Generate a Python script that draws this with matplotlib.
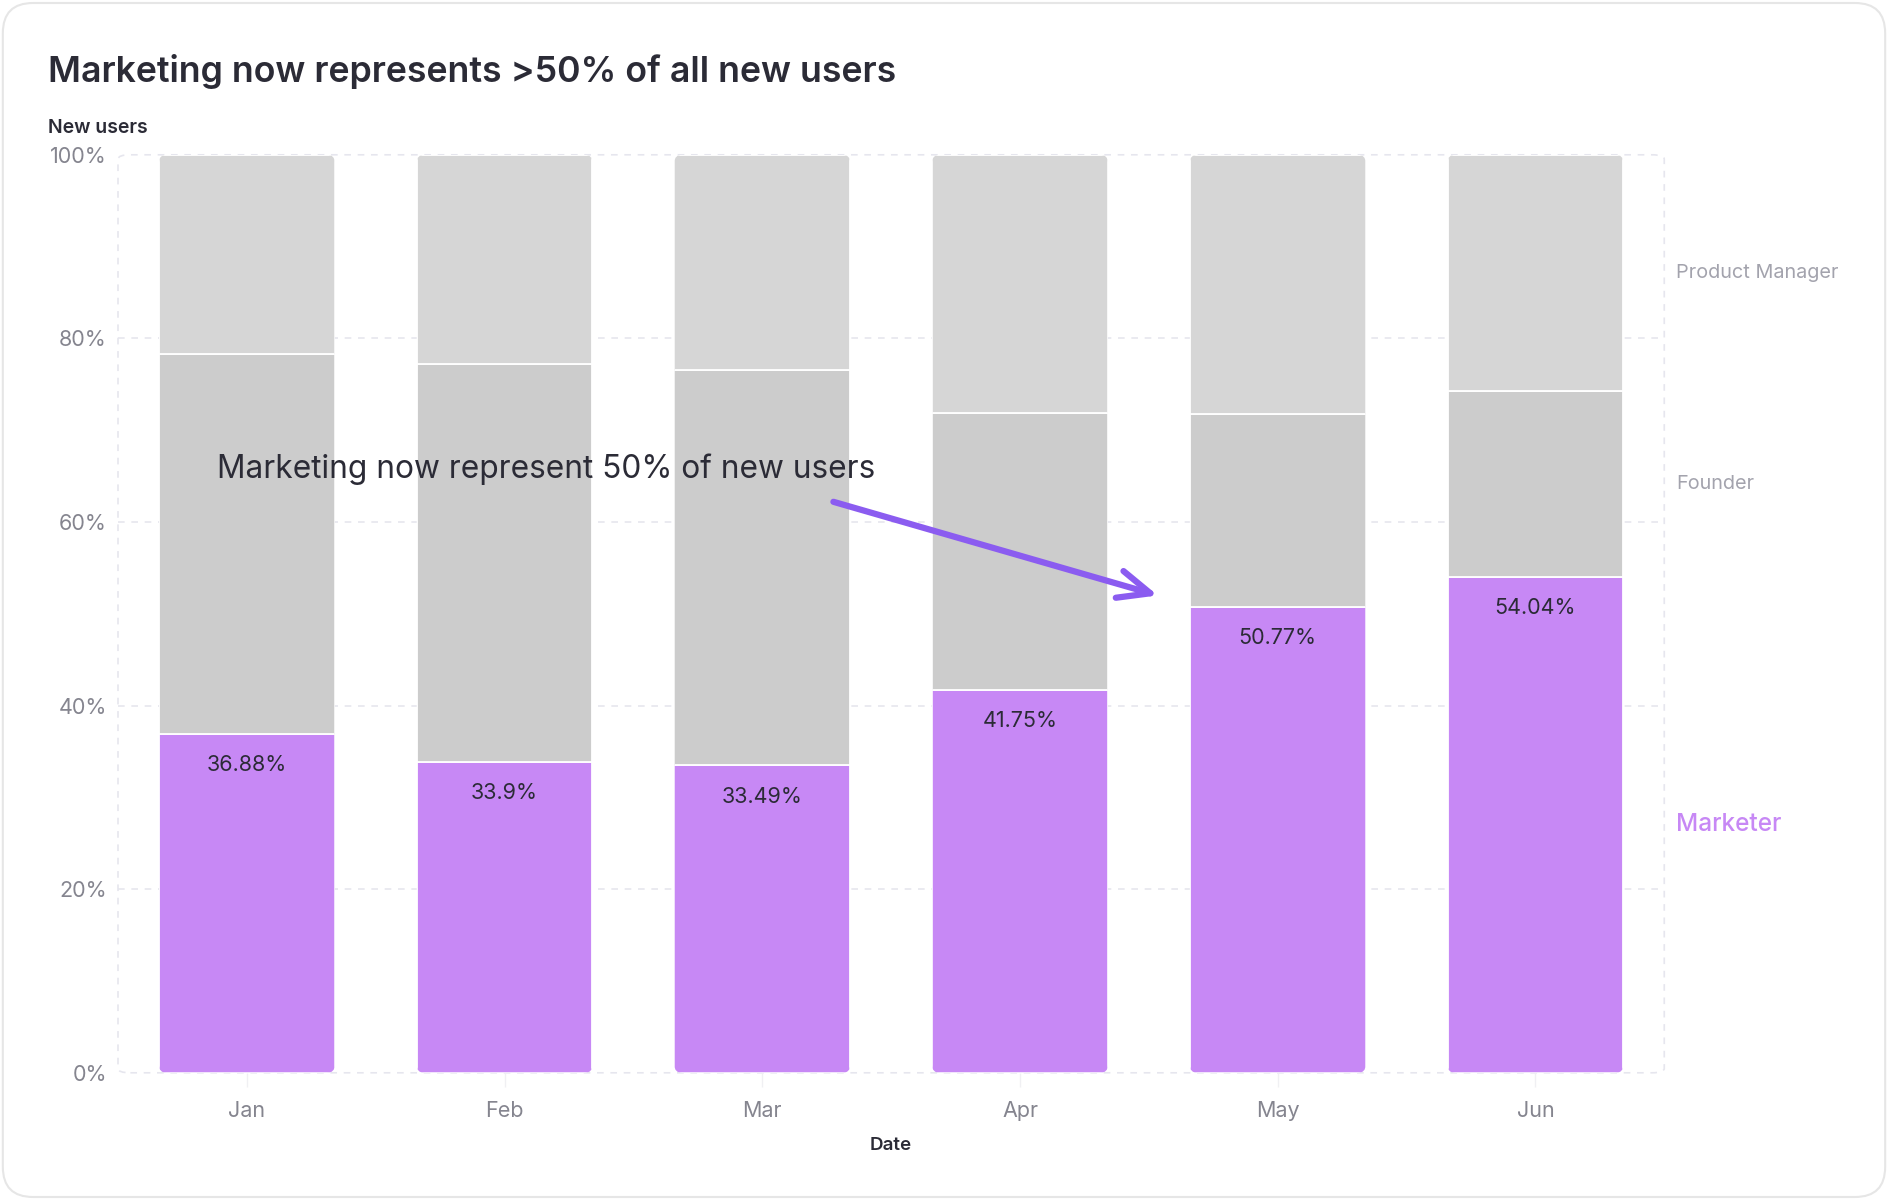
import numpy as np
import matplotlib.pyplot as plt
from matplotlib.patches import FancyBboxPatch

plt.rcParams['font.family'] = ['Inter', 'DejaVu Sans']

months = ["Jan", "Feb", "Mar", "Apr", "May", "Jun"]
marketer = [36.88, 33.90, 33.49, 41.75, 50.77, 54.04]
founder = [41.47, 43.27, 43.02, 30.17, 21.01, 20.24]
product_manager = [21.65, 22.83, 23.49, 28.08, 28.22, 25.72]
series_names = ["Marketer", "Founder", "Product Manager"]
y_ticks = [0, 20, 40, 60, 80, 100]

c_marketer = '#c788f5'
c_founder = '#cccccc'
c_pm = '#d6d6d6'
c_text = '#2b2b36'
c_muted = '#85858f'

fig = plt.figure(figsize=(18.88, 12), dpi=100)

# card background
card = FancyBboxPatch((0.0015, 0.0025), 0.997, 0.995, transform=fig.transFigure,
                      boxstyle="round,pad=0,rounding_size=0.016",
                      mutation_aspect=1888 / 1200, facecolor='white',
                      edgecolor='#e6e6e6', linewidth=1.5, zorder=-10)
fig.patches.append(card)

ax = fig.add_axes([0.0625, 0.106, 0.819, 0.765])
ax.set_facecolor('none')

x = np.arange(len(months))
w = 0.682
mk = np.array(marketer)
fd = np.array(founder)
pm = np.array(product_manager)

b1 = ax.bar(x, mk, w, color=c_marketer, edgecolor='white', linewidth=1.3, zorder=3)
b2 = ax.bar(x, fd, w, bottom=mk, color=c_founder, edgecolor='white', linewidth=1.3, zorder=3)
b3 = ax.bar(x, pm, w, bottom=mk + fd, color=c_pm, edgecolor='white', linewidth=1.3, zorder=3)

# rounded column outline used as a clip for each stack
for i in range(len(months)):
    clip = FancyBboxPatch((x[i] - w / 2, 0), w, 100,
                          boxstyle="round,pad=0,rounding_size=0.03",
                          mutation_aspect=28, transform=ax.transData)
    for bars in (b1, b2, b3):
        bars[i].set_clip_path(clip)

ax.set_xlim(-0.5, len(months) - 0.5)
ax.set_ylim(0, 100)

for s in ax.spines.values():
    s.set_visible(False)

# dashed plot frame + grid
frame = FancyBboxPatch((0, 0), 1, 1, transform=ax.transAxes,
                       boxstyle="round,pad=0,rounding_size=0.008",
                       mutation_aspect=918 / 1546, facecolor='none',
                       edgecolor='#e6e6ee', linewidth=1.2, linestyle=(0, (4, 4)),
                       zorder=1, clip_on=False)
ax.add_patch(frame)
for t in y_ticks[1:-1]:
    ax.axhline(t, color='#e6e6ee', linewidth=1.2, linestyle=(0, (4, 4)), zorder=1)

ax.set_yticks(y_ticks)
ax.set_yticklabels([f"{t}%" for t in y_ticks])
ax.tick_params(axis='y', length=0, pad=8, labelsize=15.5, labelcolor=c_muted)
ax.set_xticks(x)
ax.set_xticklabels(months)
ax.tick_params(axis='x', length=10, width=1, color='#f0f0f3', pad=10,
               labelsize=15.5, labelcolor=c_muted)

ax.set_xlabel("Date", fontsize=13.5, fontweight='semibold', color=c_text, labelpad=12)

# value labels inside marketer segment
for i, v in enumerate(marketer):
    ax.text(x[i], v - 3.4, f"{v:g}%", ha='center', va='center',
            fontsize=15.5, color=c_text, zorder=5)

# series labels on the right, next to the last stack
last = len(months) - 1
mids = [mk[last] / 2, mk[last] + fd[last] / 2, mk[last] + fd[last] + pm[last] / 2]
for name, yv in zip(series_names, mids):
    if name == "Marketer":
        ax.text(5.547, yv, name, ha='left', va='center', fontsize=17.5,
                fontweight='medium', color=c_marketer, clip_on=False)
    else:
        ax.text(5.547, yv, name, ha='left', va='center', fontsize=14.3,
                color='#a3a3ad', clip_on=False)

# annotation
ax.text(-0.117, 65.7, "Marketing now represent 50% of new users", ha='left', va='center',
        fontsize=22.8, color=c_text, zorder=6)
ax.annotate("", xy=(3.535, 52.0), xytext=(2.276, 62.2),
            arrowprops=dict(arrowstyle="->,head_length=2.3,head_width=1.0",
                            color='#8b5cf0', linewidth=4.5, capstyle='round',
                            joinstyle='round', shrinkA=0, shrinkB=0), zorder=6)

fig.text(0.0254, 0.9405, "Marketing now represents >50% of all new users", ha='left',
         va='center', fontsize=25.7, fontweight='semibold', color=c_text)
fig.text(0.0254, 0.8935, "New users", ha='left', va='center', fontsize=14,
         fontweight='semibold', color=c_text)

fig.savefig("out.png", dpi=100, facecolor='white')
